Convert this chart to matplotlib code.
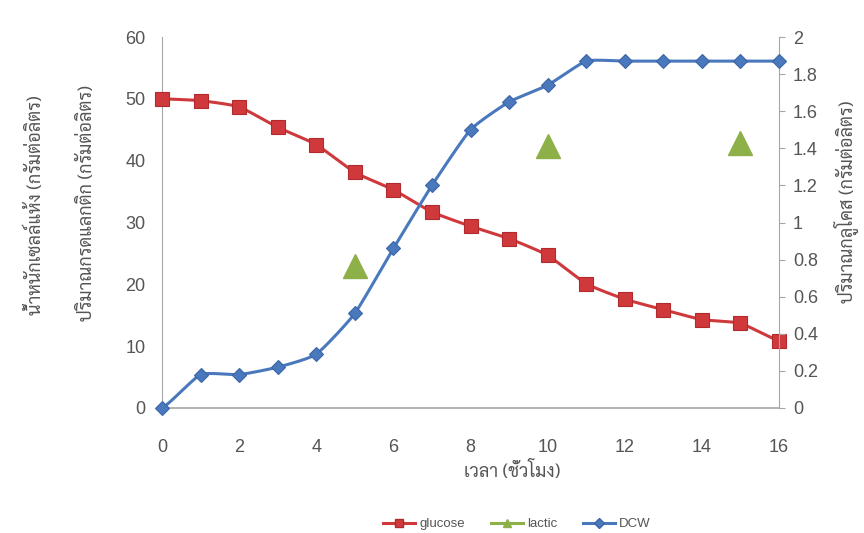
import numpy as np
import matplotlib
matplotlib.use("Agg")
import matplotlib.pyplot as plt
from matplotlib import font_manager
from matplotlib.lines import Line2D

# ---- data ----
hours = [0, 1, 2, 3, 4, 5, 6, 7, 8, 9, 10, 11, 12, 13, 14, 15, 16]
glucose = [50.0, 49.7, 48.7, 45.4, 42.6, 38.1, 35.3, 31.7, 29.4, 27.4, 24.7,
           20.1, 17.6, 15.9, 14.3, 13.7, 10.9]
dcw = [0.0, 0.18, 0.18, 0.22, 0.29, 0.51, 0.86, 1.20, 1.50, 1.65, 1.74,
       1.87, 1.87, 1.87, 1.87, 1.87, 1.87]
lactic_hours = [5, 10, 15]
lactic = [22.9, 42.4, 42.9]

x_label = "เวลา (ชั่วโมง)"
left_label_outer = "น้ำหนักเซลล์แห้ง (กรัมต่อลิตร)"
left_label_inner = "ปริมาณกรดแลกติก (กรัมต่อลิตร)"
right_label = "ปริมาณกลูโคส (กรัมต่อลิตร)"
series_names = ["glucose", "lactic", "DCW"]

RED = "#D0393B"
RED_EDGE = "#B02A2E"
GREEN = "#8DB048"
BLUE = "#4A78BD"
BLUE_EDGE = "#3C66A8"
AXIS = "#A6A6A6"
TEXT = "#555555"


def pick_font(candidates, fallback="DejaVu Sans"):
    names = {f.name for f in font_manager.fontManager.ttflist}
    for c in candidates:
        if c in names:
            return c
    return fallback


thai_font = pick_font(["Sarabun", "Noto Sans Thai Looped", "Noto Sans Thai",
                       "Bai Jamjuree", "Athiti"])
num_font = pick_font(["Liberation Sans Narrow", "Liberation Sans"])


def smooth(xs, ys, n=24, tension=0.5):
    """Cardinal spline through the points, used only to draw the connecting line."""
    xs = np.asarray(xs, float)
    ys = np.asarray(ys, float)
    px = np.concatenate([[2 * xs[0] - xs[1]], xs, [2 * xs[-1] - xs[-2]]])
    py = np.concatenate([[ys[0]], ys, [ys[-1]]])
    ox, oy = [], []
    s = (1 - tension)
    for i in range(1, len(px) - 2):
        t = np.linspace(0, 1, n, endpoint=False)
        m0x = s * (px[i + 1] - px[i - 1]) / 2
        m1x = s * (px[i + 2] - px[i]) / 2
        m0y = s * (py[i + 1] - py[i - 1]) / 2
        m1y = s * (py[i + 2] - py[i]) / 2
        h00 = 2 * t**3 - 3 * t**2 + 1
        h10 = t**3 - 2 * t**2 + t
        h01 = -2 * t**3 + 3 * t**2
        h11 = t**3 - t**2
        ox.append(h00 * px[i] + h10 * m0x + h01 * px[i + 1] + h11 * m1x)
        oy.append(h00 * py[i] + h10 * m0y + h01 * py[i + 1] + h11 * m1y)
    ox.append([xs[-1]])
    oy.append([ys[-1]])
    return np.concatenate(ox), np.concatenate(oy)


fig = plt.figure(figsize=(8.64, 5.33), dpi=100)
ax = fig.add_axes([162 / 864, 1 - 408 / 533, (779 - 162) / 864, (408 - 37) / 533])
ax2 = ax.twinx()

# glucose (left axis)
gx, gy = smooth(hours, glucose)
ax.plot(gx, gy, color=RED, lw=2.2, zorder=3, clip_on=False)
ax.plot(hours, glucose, ls="none", marker="s", ms=9.5, mfc=RED, mec=RED_EDGE,
        mew=0.8, zorder=4, clip_on=False)

# lactic (left axis)
ax.plot(lactic_hours, lactic, ls="none", marker="^", ms=17, mfc=GREEN,
        mec=GREEN, zorder=4, clip_on=False)

# dry cell weight (right axis)
dx, dy = smooth(hours, dcw)
ax2.plot(dx, dy, color=BLUE, lw=2.2, zorder=3, clip_on=False)
ax2.plot(hours, dcw, ls="none", marker="D", ms=7.5, mfc=BLUE, mec=BLUE_EDGE,
         mew=0.8, zorder=4, clip_on=False)

ax.set_xlim(0, 16)
ax.set_ylim(0, 60)
ax2.set_ylim(0, 2)
ax.set_xticks(range(0, 17, 2))
ax.set_yticks(range(0, 61, 10))
right_ticks = np.round(np.arange(0, 2.01, 0.2), 1)
ax2.set_yticks(right_ticks)
ax2.set_yticklabels([f"{v:g}" for v in right_ticks])

for a in (ax, ax2):
    a.spines["top"].set_visible(False)
    for lab in a.get_xticklabels() + a.get_yticklabels():
        lab.set_fontfamily(num_font)
        lab.set_fontsize(13)
        lab.set_color(TEXT)
ax.spines["right"].set_visible(False)
ax2.spines["left"].set_visible(False)
ax2.spines["bottom"].set_visible(False)
ax.spines["left"].set_color(AXIS)
ax.spines["bottom"].set_color(AXIS)
ax.spines["bottom"].set_linewidth(1.2)
ax2.spines["right"].set_color(AXIS)
ax.tick_params(axis="x", length=0, pad=22)
ax.tick_params(axis="y", length=0, pad=12)
ax2.tick_params(axis="y", length=4, color=AXIS, pad=6)

fig.text(512 / 864, 1 - 471 / 533, x_label, ha="center", va="center",
         fontfamily=thai_font, fontsize=13, color=TEXT)
fig.text(35 / 864, 1 - 205 / 533, left_label_outer, rotation=90, ha="center",
         va="center", fontfamily=thai_font, fontsize=13, color=TEXT)
fig.text(87 / 864, 1 - 203 / 533, left_label_inner, rotation=90, ha="center",
         va="center", fontfamily=thai_font, fontsize=13, color=TEXT)
fig.text(846 / 864, 1 - 202 / 533, right_label, rotation=90, ha="center",
         va="center", fontfamily=thai_font, fontsize=13, color=TEXT)

handles = [
    Line2D([], [], color=RED, lw=2.2, marker="s", ms=6, mfc=RED, mec=RED_EDGE),
    Line2D([], [], color=GREEN, lw=2.2, marker="^", ms=6, mfc=GREEN, mec=GREEN),
    Line2D([], [], color=BLUE, lw=2.2, marker="D", ms=5, mfc=BLUE, mec=BLUE_EDGE),
]
leg = fig.legend(handles, series_names, loc="center", ncol=3,
                 bbox_to_anchor=(517 / 864, 1 - 524 / 533), frameon=False,
                 handlelength=2.4, columnspacing=2.0, handletextpad=0.3,
                 prop={"family": num_font, "size": 9.5})
for t in leg.get_texts():
    t.set_color(TEXT)

fig.savefig("out.png", dpi=100)
